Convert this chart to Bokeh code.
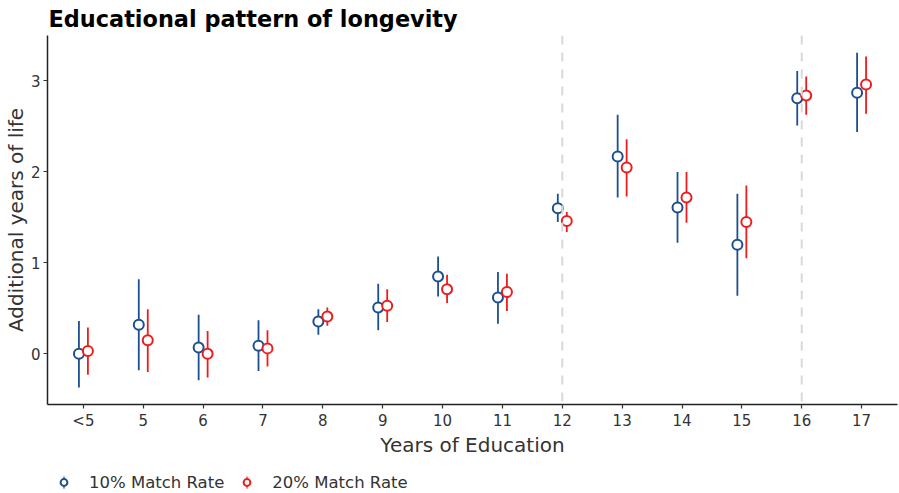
import numpy as np
from bokeh.plotting import figure
from bokeh.layouts import column
from bokeh.models import (ColumnDataSource, Range1d, FixedTicker, Span, Legend, LegendItem)
from bokeh.transform import dodge
from bokeh.embed import file_html
from bokeh.resources import INLINE

# ---- data ----
categories = ["<5", "5", "6", "7", "8", "9", "10", "11", "12", "13", "14", "15", "16", "17"]
est_10 = [0.00, 0.32, 0.07, 0.09, 0.355, 0.51, 0.85, 0.62, 1.60, 2.17, 1.61, 1.20, 2.81, 2.87]
low_10 = [-0.37, -0.18, -0.29, -0.19, 0.21, 0.26, 0.63, 0.33, 1.45, 1.72, 1.22, 0.64, 2.51, 2.44]
high_10 = [0.36, 0.82, 0.43, 0.37, 0.49, 0.77, 1.07, 0.90, 1.76, 2.63, 2.00, 1.76, 3.11, 3.31]
est_20 = [0.03, 0.15, 0.00, 0.06, 0.41, 0.53, 0.71, 0.68, 1.46, 2.05, 1.72, 1.45, 2.84, 2.96]
low_20 = [-0.23, -0.20, -0.26, -0.14, 0.31, 0.35, 0.56, 0.47, 1.34, 1.73, 1.44, 1.05, 2.63, 2.64]
high_20 = [0.29, 0.49, 0.25, 0.26, 0.51, 0.71, 0.87, 0.88, 1.56, 2.36, 2.00, 1.85, 3.05, 3.27]
y_ticks = [0, 1, 2, 3]
dashed_at = ["12", "16"]
series_names = ["10% Match Rate", "20% Match Rate"]

BLUE = "#1B4F8F"
RED = "#EE1C1C"
FONT = "DejaVu Sans"
TXT = "#333333"

pos = np.arange(len(categories))

p = figure(width=899, height=463, output_backend="svg", toolbar_location=None,
           x_range=Range1d(-0.6, len(categories) - 0.4),
           y_range=Range1d(-0.557, 3.5))
p.min_border_left = 47
p.min_border_right = 2
p.min_border_top = 35
p.min_border_bottom = 59
p.outline_line_color = None
p.background_fill_color = "white"
p.border_fill_color = "white"
p.xgrid.visible = False
p.ygrid.visible = False

# title
p.title.text = "Educational pattern of longevity"
p.title.text_font = FONT
p.title.text_font_size = "22.4px"
p.title.text_font_style = "bold"
p.title.text_color = "black"
p.title.align = "left"
p.title.offset = 1
p.title.standoff = 7

# dashed reference lines
for c in dashed_at:
    p.add_layout(Span(location=categories.index(c), dimension="height",
                      line_color="#d9d9d9", line_width=2, line_dash="9 8"))

src = ColumnDataSource(dict(x=pos, e10=est_10, l10=low_10, h10=high_10,
                            e20=est_20, l20=low_20, h20=high_20))
off = 0.075
x10 = dodge("x", -off, range=p.x_range)
x20 = dodge("x", off, range=p.x_range)

p.segment(x0=x10, x1=x10, y0="l10", y1="h10", source=src, line_color=BLUE, line_width=1.8)
p.segment(x0=x20, x1=x20, y0="l20", y1="h20", source=src, line_color=RED, line_width=1.8)
p.scatter(x=x10, y="e10", source=src, marker="circle", size=10, line_color=BLUE,
          line_width=2, fill_color="white")
p.scatter(x=x20, y="e20", source=src, marker="circle", size=10, line_color=RED,
          line_width=2, fill_color="white")

# axes
p.xaxis.ticker = FixedTicker(ticks=list(pos))
p.xaxis.major_label_overrides = {int(i): c for i, c in zip(pos, categories)}
p.yaxis.ticker = FixedTicker(ticks=y_ticks)
for ax in (p.xaxis, p.yaxis):
    ax.axis_line_color = "#222222"
    ax.axis_line_width = 1.5
    ax.major_tick_line_color = "#333333"
    ax.major_tick_line_width = 1.2
    ax.major_tick_out = 4
    ax.major_tick_in = 0
    ax.minor_tick_line_color = None
    ax.major_label_text_font = FONT
    ax.major_label_text_font_size = "15px"
    ax.major_label_text_color = TXT
    ax.axis_label_text_font = FONT
    ax.axis_label_text_font_size = "20px"
    ax.axis_label_text_font_style = "normal"
    ax.axis_label_text_color = TXT
p.xaxis.axis_label = "Years of Education"
p.yaxis.axis_label = "Additional years of life"
p.xaxis.major_label_standoff = 3
p.yaxis.major_label_standoff = 3
p.xaxis.axis_label_standoff = 0
p.yaxis.axis_label_standoff = 0

# ---- legend strip below the chart ----
lg = figure(width=899, height=30, output_backend="svg", toolbar_location=None,
            x_range=Range1d(0, 1), y_range=Range1d(0, 1),
            x_axis_location=None, y_axis_location=None)
lg.min_border_left = 0
lg.min_border_right = 0
lg.min_border_top = 0
lg.min_border_bottom = 0
lg.outline_line_color = None
lg.xgrid.visible = False
lg.ygrid.visible = False

lsrc = ColumnDataSource(dict(x=[-5.0], y=[-5.0]))
items = []
for name, col in zip(series_names, [BLUE, RED]):
    r1 = lg.ellipse(x="x", y="y", width=2, height=16, width_units="screen",
                    height_units="screen", source=lsrc, fill_color=col, line_color=None)
    r2 = lg.scatter(x="x", y="y", source=lsrc, marker="circle", size=7, line_color=col,
                    line_width=2, fill_color="white")
    items.append(LegendItem(label=name, renderers=[r1, r2]))
legend = Legend(items=items, orientation="horizontal", location=(8, 1),
                label_text_font=FONT, label_text_font_size="16.5px", label_text_color=TXT,
                border_line_color=None, background_fill_alpha=0,
                glyph_width=17, glyph_height=20, spacing=14, padding=0, margin=0,
                label_standoff=17)
lg.add_layout(legend, "center")

layout = column(p, lg, spacing=0)
open("out.html", "w").write(file_html(layout, INLINE))
